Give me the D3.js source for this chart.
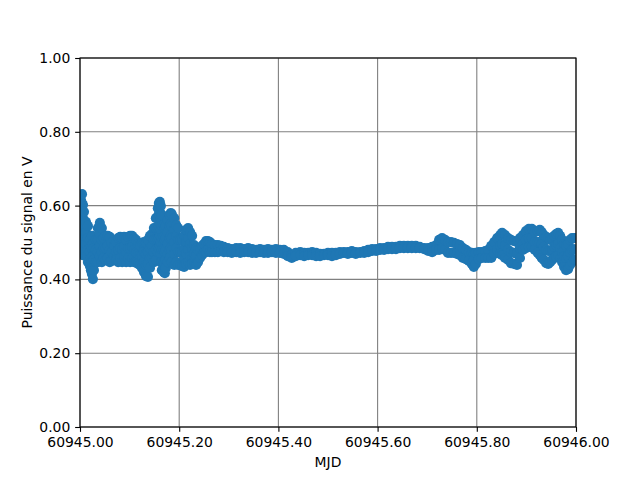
<!DOCTYPE html>
<html>
<head>
<meta charset="utf-8">
<script src="https://cdn.jsdelivr.net/npm/d3@7"></script>
<style>
  html, body { margin: 0; padding: 0; background: #fff; }
  svg { display: block; font-family: "DejaVu Sans", sans-serif; }
</style>
</head>
<body>
<svg id="chart" width="640" height="480"></svg>
<script>
// ---- Data ----
const mjdBase = 60945;
const xTicks = [60945.0, 60945.2, 60945.4, 60945.6, 60945.8, 60946.0];
const yTicks = [0.0, 0.2, 0.4, 0.6, 0.8, 1.0];
const xLabel = "MJD";
const yLabel = "Puissance du signal en V";

// Each row: [day offset from mjdBase, measured values around that time...]
const earlyRows = [
  [0.000, 0.629, 0.602, 0.575, 0.547, 0.520, 0.493],
  [0.002, 0.615, 0.588, 0.561, 0.528, 0.501, 0.474],
  [0.004, 0.631, 0.607, 0.580, 0.556, 0.534, 0.512, 0.480],
  [0.006, 0.602, 0.566, 0.534, 0.496, 0.466],
  [0.008, 0.583, 0.545, 0.507, 0.474],
  [0.012, 0.556, 0.528, 0.496, 0.463],
  [0.016, 0.545, 0.512, 0.480, 0.447],
  [0.020, 0.507, 0.474, 0.436],
  [0.022, 0.491, 0.458, 0.425],
  [0.024, 0.518, 0.485, 0.447, 0.415],
  [0.026, 0.496, 0.463, 0.431, 0.401],
  [0.028, 0.485, 0.453, 0.425],
  [0.032, 0.507, 0.480, 0.447],
  [0.036, 0.539, 0.507, 0.474, 0.447],
  [0.040, 0.553, 0.523, 0.491, 0.463],
  [0.044, 0.539, 0.507, 0.474, 0.447],
  [0.048, 0.512, 0.485, 0.458],
  [0.052, 0.518, 0.485, 0.453],
  [0.056, 0.518, 0.491, 0.458],
  [0.060, 0.515, 0.480, 0.447],
  [0.064, 0.499, 0.474, 0.450],
  [0.069, 0.491, 0.463],
  [0.073, 0.501, 0.474, 0.453],
  [0.077, 0.512, 0.480, 0.447],
  [0.081, 0.515, 0.485, 0.458],
  [0.085, 0.512, 0.480, 0.447],
  [0.089, 0.515, 0.488, 0.461],
  [0.093, 0.507, 0.474, 0.447],
  [0.097, 0.515, 0.485, 0.458],
  [0.101, 0.518, 0.485, 0.447],
  [0.105, 0.518, 0.488, 0.458],
  [0.109, 0.512, 0.480, 0.447],
  [0.113, 0.507, 0.474, 0.447],
  [0.117, 0.496, 0.469, 0.442],
  [0.121, 0.493, 0.466, 0.439],
  [0.125, 0.499, 0.466, 0.431],
  [0.129, 0.501, 0.474, 0.447, 0.420],
  [0.133, 0.499, 0.469, 0.439, 0.409],
  [0.137, 0.507, 0.474, 0.442, 0.407],
  [0.141, 0.518, 0.485, 0.458, 0.431],
  [0.145, 0.523, 0.491, 0.458],
  [0.149, 0.539, 0.507, 0.474, 0.447],
  [0.153, 0.566, 0.539, 0.507, 0.480, 0.453],
  [0.157, 0.593, 0.566, 0.539, 0.507, 0.474],
  [0.159, 0.607, 0.577, 0.545, 0.512, 0.485],
  [0.161, 0.610, 0.583, 0.550, 0.518, 0.491],
  [0.163, 0.599, 0.566, 0.534, 0.501, 0.469, 0.447],
  [0.165, 0.575, 0.545, 0.512, 0.480, 0.447, 0.425],
  [0.169, 0.547, 0.515, 0.480, 0.447, 0.420],
  [0.171, 0.539, 0.507, 0.474, 0.444, 0.417],
  [0.173, 0.545, 0.512, 0.480, 0.453, 0.431],
  [0.177, 0.561, 0.528, 0.496, 0.469, 0.447],
  [0.181, 0.575, 0.545, 0.512, 0.480, 0.458],
  [0.183, 0.580, 0.550, 0.518, 0.485, 0.463],
  [0.185, 0.577, 0.545, 0.512, 0.480, 0.447],
  [0.190, 0.566, 0.534, 0.501, 0.469, 0.439],
  [0.194, 0.547, 0.518, 0.485, 0.447],
  [0.198, 0.539, 0.507, 0.474, 0.439],
  [0.202, 0.507, 0.474, 0.439],
  [0.206, 0.507, 0.474, 0.436],
  [0.210, 0.518, 0.485, 0.458, 0.434],
  [0.214, 0.534, 0.501, 0.469, 0.442],
  [0.218, 0.539, 0.512, 0.480, 0.447],
  [0.222, 0.528, 0.496, 0.463, 0.439],
  [0.226, 0.518, 0.485, 0.458, 0.442],
  [0.230, 0.493, 0.469, 0.447],
  [0.234, 0.485, 0.463, 0.439],
  [0.238, 0.480, 0.447],
  [0.242, 0.480, 0.458],
  [0.246, 0.491, 0.466],
  [0.250, 0.496, 0.472],
  [0.254, 0.504, 0.474],
  [0.258, 0.504, 0.480],
  [0.262, 0.501, 0.474],
  [0.266, 0.496, 0.474],
  [0.272, 0.493, 0.474],
  [0.278, 0.493, 0.474],
  [0.284, 0.491, 0.477],
  [0.290, 0.488, 0.474]
];

const middleRows = [
  [0.298, 0.485, 0.474],
  [0.306, 0.482, 0.472],
  [0.315, 0.485, 0.474],
  [0.323, 0.485, 0.472],
  [0.331, 0.482, 0.474],
  [0.339, 0.485, 0.474],
  [0.347, 0.482, 0.472],
  [0.355, 0.480, 0.472],
  [0.363, 0.482, 0.474],
  [0.371, 0.480, 0.472],
  [0.379, 0.482, 0.472],
  [0.387, 0.480, 0.474],
  [0.395, 0.482, 0.472],
  [0.403, 0.480, 0.472],
  [0.411, 0.480, 0.469],
  [0.419, 0.474, 0.463],
  [0.427, 0.466, 0.458],
  [0.435, 0.472, 0.463],
  [0.444, 0.474, 0.466],
  [0.452, 0.472, 0.463],
  [0.460, 0.472, 0.466],
  [0.468, 0.474, 0.466],
  [0.476, 0.472, 0.463],
  [0.484, 0.469, 0.463],
  [0.492, 0.469, 0.466],
  [0.500, 0.472, 0.466],
  [0.508, 0.472, 0.463],
  [0.516, 0.472, 0.466],
  [0.524, 0.474, 0.469],
  [0.532, 0.474, 0.472],
  [0.540, 0.474, 0.469],
  [0.548, 0.477, 0.472],
  [0.556, 0.474, 0.469],
  [0.565, 0.474, 0.472],
  [0.573, 0.477, 0.472],
  [0.581, 0.480, 0.474],
  [0.589, 0.482, 0.477],
  [0.597, 0.482, 0.477],
  [0.605, 0.485, 0.480],
  [0.613, 0.485, 0.480],
  [0.621, 0.488, 0.482],
  [0.629, 0.488, 0.482],
  [0.637, 0.488, 0.482],
  [0.645, 0.491, 0.485],
  [0.653, 0.491, 0.485],
  [0.661, 0.491, 0.485],
  [0.669, 0.491, 0.485],
  [0.677, 0.491, 0.485],
  [0.685, 0.488, 0.485],
  [0.694, 0.485, 0.482],
  [0.702, 0.485, 0.477],
  [0.710, 0.488, 0.474],
  [0.718, 0.493, 0.480]
];

const lateRows = [
  [0.724, 0.507, 0.480],
  [0.730, 0.512, 0.485],
  [0.736, 0.507, 0.480],
  [0.742, 0.501, 0.472],
  [0.748, 0.501, 0.472],
  [0.754, 0.499, 0.472],
  [0.760, 0.496, 0.469],
  [0.766, 0.493, 0.466],
  [0.772, 0.485, 0.458],
  [0.778, 0.480, 0.455],
  [0.784, 0.474, 0.450],
  [0.790, 0.472, 0.442],
  [0.794, 0.469, 0.453, 0.434],
  [0.798, 0.472, 0.442],
  [0.804, 0.474, 0.455],
  [0.810, 0.474, 0.458],
  [0.817, 0.477, 0.458],
  [0.823, 0.480, 0.458],
  [0.829, 0.491, 0.458],
  [0.835, 0.501, 0.469],
  [0.841, 0.512, 0.480],
  [0.847, 0.520, 0.491, 0.469],
  [0.851, 0.526, 0.496, 0.466],
  [0.857, 0.520, 0.491, 0.458],
  [0.863, 0.512, 0.480, 0.453],
  [0.869, 0.507, 0.474, 0.444],
  [0.875, 0.504, 0.472, 0.442],
  [0.881, 0.501, 0.469, 0.439],
  [0.887, 0.512, 0.485, 0.458],
  [0.893, 0.520, 0.496, 0.480],
  [0.899, 0.531, 0.507, 0.485],
  [0.905, 0.537, 0.512, 0.488],
  [0.911, 0.537, 0.512, 0.488],
  [0.917, 0.528, 0.501, 0.480],
  [0.923, 0.531, 0.501, 0.472],
  [0.927, 0.534, 0.501, 0.466],
  [0.931, 0.528, 0.496, 0.458],
  [0.935, 0.520, 0.488, 0.453],
  [0.940, 0.515, 0.480, 0.444],
  [0.944, 0.512, 0.477, 0.442],
  [0.948, 0.507, 0.477, 0.447],
  [0.952, 0.509, 0.480, 0.453],
  [0.956, 0.518, 0.488, 0.458],
  [0.960, 0.523, 0.493, 0.461],
  [0.964, 0.526, 0.496, 0.466],
  [0.968, 0.518, 0.485, 0.458],
  [0.972, 0.507, 0.474, 0.447],
  [0.976, 0.496, 0.463, 0.434],
  [0.980, 0.493, 0.458, 0.425],
  [0.984, 0.496, 0.463, 0.428],
  [0.988, 0.507, 0.474, 0.439],
  [0.992, 0.512, 0.480, 0.447],
  [0.996, 0.512, 0.482, 0.453],
  [1.000, 0.512, 0.480, 0.453]
];

// ---- Build point list from rows ----
const points = [];
[earlyRows, middleRows, lateRows].forEach(rows => {
  rows.forEach(row => {
    const mjd = mjdBase + row[0];
    row.slice(1).forEach(v => points.push({ mjd: mjd, value: v }));
  });
});

// ---- Layout ----
const W = 640, H = 480;
const plot = { left: 80, right: 576, top: 58, bottom: 427 };
const fontSize = 13.9;
const tickLen = 4.86;
const tickPad = 4.86;

const svg = d3.select("#chart");

const x = d3.scaleLinear().domain([xTicks[0], xTicks[xTicks.length - 1]]).range([plot.left, plot.right]);
const y = d3.scaleLinear().domain([yTicks[0], yTicks[yTicks.length - 1]]).range([plot.bottom, plot.top]);

// Clip path for plot area
svg.append("defs").append("clipPath").attr("id", "plotClip")
  .append("rect")
  .attr("x", plot.left).attr("y", plot.top)
  .attr("width", plot.right - plot.left).attr("height", plot.bottom - plot.top);

// Grid
const grid = svg.append("g").attr("class", "grid");
grid.selectAll("line.vx").data(xTicks).enter().append("line")
  .attr("x1", d => x(d)).attr("x2", d => x(d))
  .attr("y1", plot.top).attr("y2", plot.bottom)
  .attr("stroke", "#808080").attr("stroke-width", 1.1);
grid.selectAll("line.hy").data(yTicks).enter().append("line")
  .attr("x1", plot.left).attr("x2", plot.right)
  .attr("y1", d => y(d)).attr("y2", d => y(d))
  .attr("stroke", "#808080").attr("stroke-width", 1.1);

// Points
svg.append("g").attr("clip-path", "url(#plotClip)")
  .selectAll("circle").data(points).enter().append("circle")
  .attr("cx", d => x(d.mjd))
  .attr("cy", d => y(d.value))
  .attr("r", 5.1)
  .attr("fill", "#1f77b4");

// Axes
const xAxis = d3.axisBottom(x).tickValues(xTicks).tickFormat(d3.format(".2f"))
  .tickSizeInner(tickLen).tickSizeOuter(0).tickPadding(tickPad);
const yAxis = d3.axisLeft(y).tickValues(yTicks).tickFormat(d3.format(".2f"))
  .tickSizeInner(tickLen).tickSizeOuter(0).tickPadding(tickPad);

const gx = svg.append("g").attr("transform", `translate(0,${plot.bottom})`).call(xAxis);
const gy = svg.append("g").attr("transform", `translate(${plot.left},0)`).call(yAxis);
[gx, gy].forEach(g => {
  g.select(".domain").remove();
  g.selectAll(".tick line").attr("stroke", "#000").attr("stroke-width", 1.1);
  g.selectAll(".tick text").attr("fill", "#000")
    .style("font-family", "'DejaVu Sans', sans-serif")
    .style("font-size", fontSize + "px");
});

// Spines
svg.append("rect")
  .attr("x", plot.left).attr("y", plot.top)
  .attr("width", plot.right - plot.left).attr("height", plot.bottom - plot.top)
  .attr("fill", "none").attr("stroke", "#000").attr("stroke-width", 1.1);

// Axis labels
svg.append("text")
  .attr("x", (plot.left + plot.right) / 2).attr("y", 467)
  .attr("text-anchor", "middle")
  .style("font-size", fontSize + "px")
  .text(xLabel);

svg.append("text")
  .attr("transform", `translate(27,${(plot.top + plot.bottom) / 2}) rotate(-90)`)
  .attr("text-anchor", "middle")
  .attr("dominant-baseline", "central")
  .style("font-size", fontSize + "px")
  .text(yLabel);
</script>
</body>
</html>
